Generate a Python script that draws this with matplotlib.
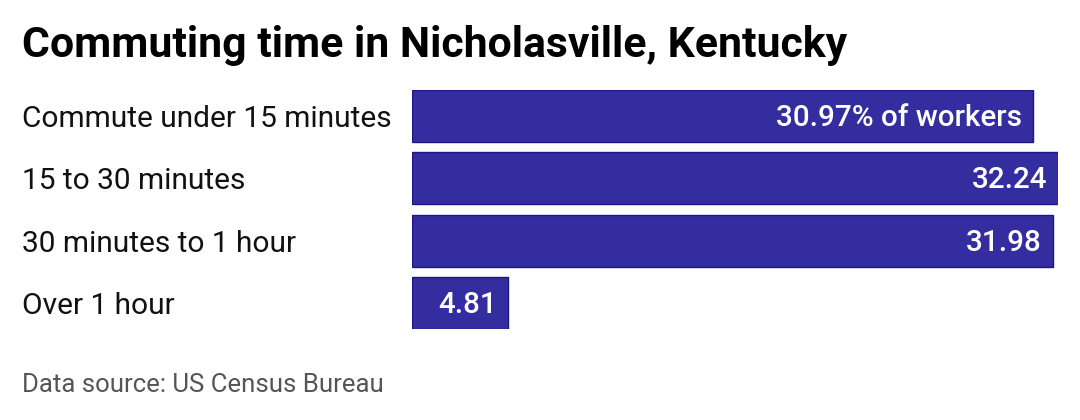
import matplotlib
matplotlib.use("Agg")
import matplotlib.pyplot as plt
import matplotlib.transforms as mtransforms

categories = ["Commute under 15 minutes", "15 to 30 minutes", "30 minutes to 1 hour", "Over 1 hour"]
values = [30.97, 32.24, 31.98, 4.81]
value_labels = ["30.97% of workers", "32.24", "31.98", "4.81"]
title = "Commuting time in Nicholasville, Kentucky"
source = "Data source: US Census Bureau"

plt.rcParams['font.family'] = ['Roboto', 'DejaVu Sans']

W, H = 1080, 420
fig = plt.figure(figsize=(W / 100, H / 100), dpi=100)
fig.patch.set_facecolor("white")

left, right = 412 / W, 1058 / W
top_px, bot_px = 90, 329
ax = fig.add_axes([left, (H - bot_px) / H, right - left, (bot_px - top_px) / H])

h = 0.835
ypos = list(range(len(categories)))
ax.barh(ypos, values, height=h, color="#332d9f", edgecolor="#1c1785", linewidth=1.0)
ax.set_xlim(0, max(values))
ax.set_ylim(len(categories) - 1 + h / 2, -h / 2)
ax.axis("off")

for y, v, lab in zip(ypos, values, value_labels):
    ax.annotate(lab, xy=(v, y), xytext=(-11, -2), textcoords="offset pixels",
                ha="right", va="center", color="white", fontsize=21.3,
                fontweight="medium")

for y, cat in zip(ypos, categories):
    ax.annotate(cat, xy=(0, y), xycoords=mtransforms.blended_transform_factory(fig.transFigure, ax.transData),
                xytext=(22, -3), textcoords="offset pixels", ha="left", va="center",
                fontsize=21.5, color="#111111")

fig.text(22 / W, (H - 57) / H, title, ha="left", va="baseline",
         fontsize=30.8, fontweight="bold", color="#000000")
fig.text(22 / W, (H - 392) / H, source, ha="left", va="baseline",
         fontsize=18.5, color="#555555")

fig.savefig("out.png", dpi=100, facecolor="white")
